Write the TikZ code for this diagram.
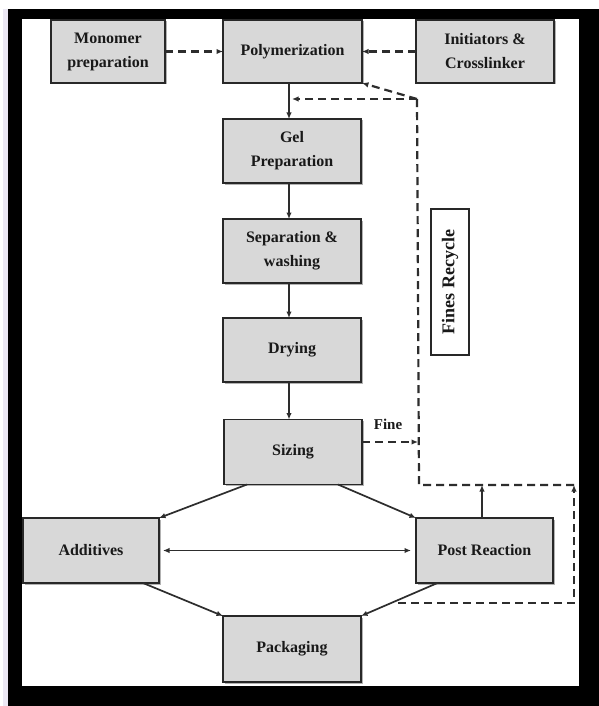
\documentclass[tikz,border=0pt]{standalone}
\usepackage{fontspec}
\setmainfont{Liberation Serif}
\usetikzlibrary{arrows.meta,shadows}
\definecolor{boxfill}{RGB}{216,216,216}
\definecolor{boxline}{RGB}{40,40,40}
\definecolor{txt}{RGB}{25,25,25}
\definecolor{edge}{RGB}{45,45,45}
\definecolor{lav}{RGB}{236,232,244}
\begin{document}
\begin{tikzpicture}[x=1pt,y=-1pt,
  box/.style={draw=boxline,fill=boxfill,line width=1.8pt,inner sep=0pt,outer sep=0pt,
    align=center,text=txt,font=\fontsize{16}{24}\selectfont\bfseries,
    drop shadow={shadow xshift=1.5pt,shadow yshift=-1.5pt,opacity=0.3,fill=black}},
  flow/.style={draw=edge,line width=1.7pt,-{Latex[length=6.5pt,width=5.5pt]}},
  dsh/.style={draw=edge,line width=2.2pt,dash pattern=on 8pt off 5pt},
  dtip/.style={-{Latex[length=6.5pt,width=5.5pt]}}
]
\useasboundingbox (0,0) rectangle (599,706);
% frame
\fill[white] (0,0) rectangle (599,706);
\fill[lav] (3,9) rectangle (8,706);
\fill[black] (8,9) rectangle (599,706);
\fill[white] (22,19) rectangle (579,686);

% boxes
\node[box,minimum width=114pt,minimum height=63pt] (mono) at (108,51.5) {Monomer\\preparation};
\node[box,minimum width=139pt,minimum height=63pt] (poly) at (292.5,51.5) {Polymerization};
\node[box,minimum width=138pt,minimum height=63pt] (init) at (485,51.5) {Initiators \&\\Crosslinker};
\node[box,minimum width=138pt,minimum height=64pt] (gel) at (292,151) {Gel\\Preparation};
\node[box,minimum width=138pt,minimum height=64pt] (sep) at (292,251) {Separation \&\\washing};
\node[box,minimum width=138pt,minimum height=64pt] (dry) at (292,350) {Drying};
\node[box,minimum width=138pt,minimum height=65pt] (siz) at (293,452) {Sizing};
\node[box,minimum width=136pt,minimum height=65pt] (add) at (91,550.5) {Additives};
\node[box,minimum width=137pt,minimum height=65pt] (post) at (484.5,550.5) {Post Reaction};
\node[box,minimum width=138pt,minimum height=66pt] (pack) at (292,649) {Packaging};
\node[draw=boxline,fill=white,line width=1.8pt,minimum width=38pt,minimum height=146pt,inner sep=0pt,
  text=txt,font=\fontsize{18}{20}\selectfont\bfseries] (fines) at (450,282)
  {\rotatebox{90}{Fines Recycle}};
\node[text=txt,font=\fontsize{15}{16}\selectfont\bfseries,inner sep=0pt] (finelbl) at (388,424) {Fine};

% coordinates for the recycle loop
\coordinate (bl) at (398,603);
\coordinate (br) at (574,603);
\coordinate (tr) at (574,485);
\coordinate (tl) at (419,485);
\coordinate (top) at (417,99);
\coordinate (polyin) at (292,99);
\coordinate (finein) at (418,442);

% solid flows
\draw[flow] ([xshift=-3.5pt]poly.south) -- ([xshift=-3pt]gel.north);
\draw[flow] ([xshift=-3pt]gel.south) -- ([xshift=-3pt]sep.north);
\draw[flow] ([xshift=-3pt]sep.south) -- ([xshift=-3pt]dry.north);
\draw[flow] ([xshift=-3pt]dry.south) -- ([xshift=-4pt]siz.north);
\draw[flow] ([xshift=-46pt]siz.south) -- (add.north east);
\draw[flow] ([xshift=45pt]siz.south) -- (post.north west);
\draw[flow,{Latex[length=6.5pt,width=5.5pt]}-{Latex[length=6.5pt,width=5.5pt]},shorten <=4pt,shorten >=5pt] (add.east) -- (post.west);
\draw[flow] ([xshift=52pt]add.south) -- (pack.north west);
\draw[flow] ([xshift=-47pt]post.south) -- (pack.north east);
\draw[flow] ([xshift=-2.5pt]post.north) -- ([xshift=-2.5pt]post.north |- tr);

% dashed flows
\draw[dsh,dtip] (mono.east) -- (poly.west);
\draw[dsh,dtip] (init.west) -- (poly.east);
\draw[dsh,dtip] (bl) -- (br) -- (tr);
\draw[dsh] (tr) -- (tl) -- (top);
\draw[dsh,dtip] (top) -- (polyin);
\draw[dsh,dtip] (top) -- (poly.south east);
\draw[dsh,dtip] ([yshift=10pt]siz.east) -- (finein);
\end{tikzpicture}
\end{document}
